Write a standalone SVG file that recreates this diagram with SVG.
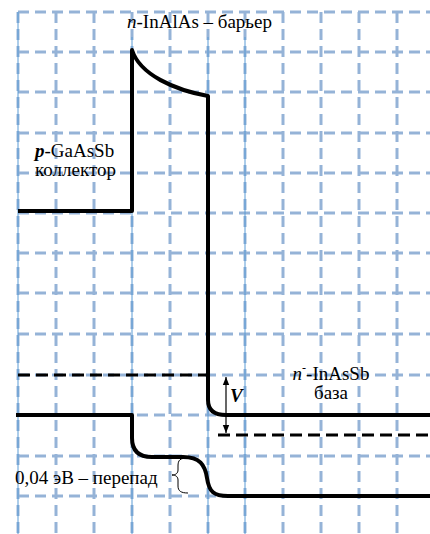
<svg xmlns="http://www.w3.org/2000/svg" width="430" height="534" viewBox="0 0 430 534">
<style>
.g{stroke:#95B3D7;stroke-width:3;stroke-dasharray:11 6;fill:none}
.t{stroke:#5B9BD5;stroke-width:1;fill:none}
.b{stroke:#000;stroke-width:4;fill:none;stroke-linejoin:round}
.d{stroke:#000;stroke-width:3;fill:none;stroke-dasharray:12 6}
.s{font-family:'Liberation Serif','Times New Roman',serif;font-size:19px;fill:#000}
</style>
<defs>
<marker id="ah" viewBox="0 0 10 10" refX="10" refY="5" markerWidth="8" markerHeight="8" orient="auto-start-reverse" markerUnits="userSpaceOnUse">
<path d="M0,1 L10,5 L0,9 Z" fill="#000"/>
</marker>
</defs>
<g id="grid">
<path class="g" d="M18,12V534M56,12V534M94,12V534M132,12V534M170,12V534M208,12V534M245,12V534M283,12V534M321,12V534M359,12V534M397,12V534"/>
<path class="g" d="M18,12H430M18,52H430M18,92H430M18,133H430M18,173H430M18,213H430M18,253H430M18,293H430M18,334H430M18,375H430M18,415H430M18,456H430M18,496H430"/>
<path class="t" d="M18,12V534M132,37V534M208,37V534M245,37V534"/>
</g>
<g id="connectors">
<path id="collector-barrier-base" class="b" d="M18,211H132V50C140,75 175,90 208,96V400Q208,415 226,415H430"/>
<path id="valence" class="b" d="M16,415H132V438Q132,457 152,457H183C200,457 205,465 207,478C209,492 214,496 228,496H430"/>
<path id="fermi-left" class="d" d="M18,375H216"/>
<path id="fermi-right" class="d" d="M218,435H430"/>
<path id="v-arrow" d="M226,377V433" stroke="#000" stroke-width="1.2" fill="none" marker-start="url(#ah)" marker-end="url(#ah)"/>
<path id="brace" d="M188,458C180,458 178,460 178,466V470C178,473 176,475 172,475C176,475 178,477 178,480V486C178,491 181,493 188,493" stroke="#000" stroke-width="1" fill="none"/>
</g>
<g id="barrier-label"><text class="s" x="127" y="28"><tspan font-style="italic">n</tspan>-InAlAs – барьер</text></g>
<g id="collector-label"><text class="s" x="35" y="157"><tspan font-style="italic" font-weight="bold">p</tspan>-GaAsSb</text><text class="s" x="35" y="176">коллектор</text></g>
<g id="base-label"><text class="s" x="331" y="380" text-anchor="middle"><tspan font-style="italic">n</tspan><tspan font-size="12" dy="-8">-</tspan><tspan dy="8">-InAsSb</tspan></text><text class="s" x="331" y="399" text-anchor="middle">база</text></g>
<g id="v-label"><text class="s" x="230" y="402" font-style="italic" font-weight="bold">V</text></g>
<g id="step-label"><text class="s" x="15" y="484">0,04 эВ – перепад</text></g>
</svg>
